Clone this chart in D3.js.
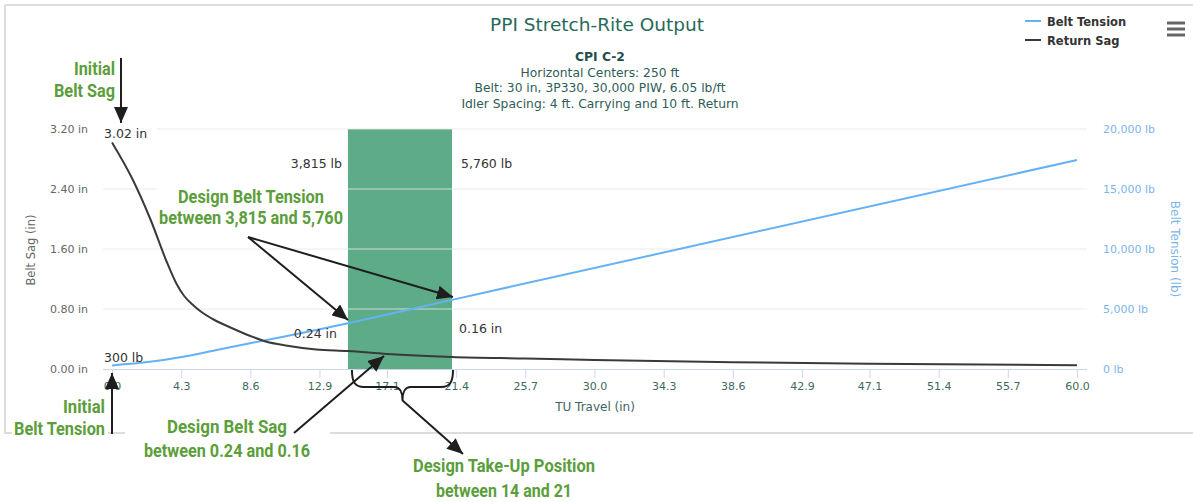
<!DOCTYPE html>
<html><head><meta charset="utf-8">
<script src="https://cdn.jsdelivr.net/npm/d3@7"></script>
<style>
body{margin:0;background:#fff}
svg{display:block}
text{font-family:"DejaVu Sans",Verdana,sans-serif}
.ann{font-family:Roboto,"Liberation Sans",sans-serif;font-weight:bold;fill:#5b9e3b}
</style>
</head><body>
<svg id="c" width="1193" height="502"></svg>
<script>
// ---------- data ----------
const titleText = "PPI Stretch-Rite Output";
const subtitleLines = ["CPI C-2", "Horizontal Centers: 250 ft", "Belt: 30 in, 3P330, 30,000 PIW, 6.05 lb/ft", "Idler Spacing: 4 ft. Carrying and 10 ft. Return"];
const seriesNames = ["Belt Tension", "Return Sag"];
const xTicks = [0, 4.3, 8.6, 12.9, 17.1, 21.4, 25.7, 30.0, 34.3, 38.6, 42.9, 47.1, 51.4, 55.7, 60.0];
const sagTicks = [0, 0.8, 1.6, 2.4, 3.2];
const tensionTicks = [0, 5000, 10000, 15000, 20000];
const sagTravel = [0, 1.3, 2.4, 3.4, 4.0, 4.5, 5.0, 5.5, 6.4, 7.4, 8.6, 9.5, 10.9, 12.7, 14.67, 17.1, 21.14, 25.7, 30, 38.6, 47.1, 60];
const sagValues = [3.02, 2.52, 1.99, 1.43, 1.14, 0.97, 0.86, 0.77, 0.65, 0.55, 0.44, 0.37, 0.31, 0.26, 0.24, 0.20, 0.16, 0.14, 0.12, 0.09, 0.07, 0.05];
const tensionTravel = [0, 2.36, 4.43, 6.5, 8.58, 10.65, 12.7, 14.67, 21.14, 60];
const tensionValues = [300, 600, 1020, 1580, 2150, 2690, 3250, 3815, 5760, 17417];
const designRange = [14.67, 21.14];

// ---------- setup ----------
const svg = d3.select("#c");
svg.append("rect").attr("width",1193).attr("height",502).attr("fill","#fff");

// frame
const frameCol = "#dcdcdc";
svg.append("line").attr("x1",5).attr("x2",1193).attr("y1",5).attr("y2",5).attr("stroke",frameCol).attr("stroke-width",2);
svg.append("line").attr("x1",5).attr("x2",5).attr("y1",5).attr("y2",434).attr("stroke",frameCol).attr("stroke-width",2);
svg.append("line").attr("x1",5).attr("x2",1193).attr("y1",433).attr("y2",433).attr("stroke",frameCol).attr("stroke-width",2);

const plotL = 103, plotR = 1087, plotT = 129, plotB = 369;
const x = d3.scaleLinear().domain([0,60]).range([112,1077]);
const ySag = d3.scaleLinear().domain([0,3.2]).range([plotB,plotT]);
const yTen = d3.scaleLinear().domain([0,20000]).range([plotB,plotT]);

// band
svg.append("rect")
  .attr("x", x(designRange[0])).attr("y", plotT)
  .attr("width", x(designRange[1]) - x(designRange[0]))
  .attr("height", plotB - plotT)
  .attr("fill", "#5eac87");

// grid
svg.append("g").selectAll("line").data(sagTicks.filter(d=>d>0)).join("line")
  .attr("x1",plotL).attr("x2",plotR)
  .attr("y1",d=>ySag(d)).attr("y2",d=>ySag(d))
  .attr("stroke","#e6e6e6").attr("stroke-opacity",0.85);

// x axis
const gx = svg.append("g").attr("transform",`translate(0,${plotB})`)
  .call(d3.axisBottom(x).tickValues(xTicks).tickFormat(d3.format(".1f")).tickSize(9).tickPadding(4));
gx.select(".domain").remove();
gx.selectAll(".tick line").attr("stroke","#ccd6eb");
gx.selectAll(".tick text").attr("font-size",11).attr("fill","#3d6a62").attr("font-family","DejaVu Sans");
svg.append("line").attr("x1",plotL).attr("x2",plotR).attr("y1",plotB+0.5).attr("y2",plotB+0.5).attr("stroke","#ccd6eb");

// left axis
const gl = svg.append("g").attr("transform",`translate(${plotL},0)`)
  .call(d3.axisLeft(ySag).tickValues(sagTicks).tickFormat(d=>d.toFixed(2)+" in").tickSize(0).tickPadding(15));
gl.select(".domain").remove();
gl.selectAll(".tick text").attr("font-size",11).attr("fill","#666").attr("font-family","DejaVu Sans");

// right axis
const gr = svg.append("g").attr("transform",`translate(${plotR},0)`)
  .call(d3.axisRight(yTen).tickValues(tensionTicks).tickFormat(d=>d3.format(",")(d)+" lb").tickSize(0).tickPadding(16));
gr.select(".domain").remove();
gr.selectAll(".tick text").attr("font-size",11).attr("fill","#7cb5ec").attr("font-family","DejaVu Sans");

// axis titles
svg.append("text").attr("x",595).attr("y",411).attr("text-anchor","middle").attr("font-size",12).attr("fill","#3f6360").text("TU Travel (in)");
svg.append("text").attr("transform","translate(35,250) rotate(-90)").attr("text-anchor","middle").attr("font-size",11.5).attr("fill","#666").text("Belt Sag (in)");
svg.append("text").attr("transform","translate(1171,249) rotate(90)").attr("text-anchor","middle").attr("font-size",12).attr("fill","#7cb5ec").text("Belt Tension (lb)");

// lines
const tensionData = tensionTravel.map((t,i)=>[t,tensionValues[i]]);
const sagData = sagTravel.map((t,i)=>[t,sagValues[i]]);
svg.append("path").datum(tensionData)
  .attr("d", d3.line().x(d=>x(d[0])).y(d=>yTen(d[1])).curve(d3.curveMonotoneX))
  .attr("fill","none").attr("stroke","#64b1f4").attr("stroke-width",2);
svg.append("path").datum(sagData)
  .attr("d", d3.line().x(d=>x(d[0])).y(d=>ySag(d[1])).curve(d3.curveMonotoneX))
  .attr("fill","none").attr("stroke","#3a3a3a").attr("stroke-width",2);

// title & subtitle
svg.append("text").attr("x",597).attr("y",31).attr("text-anchor","middle").attr("font-size",18.5).attr("fill","#26695a").text(titleText);
const subY = [61, 77, 92, 108];
subtitleLines.forEach((s,i)=>{
  svg.append("text").attr("x",600).attr("y",subY[i]).attr("text-anchor","middle")
    .attr("font-size",12.3).attr("font-weight",i===0?"bold":"normal")
    .attr("fill",i===0?"#1f4f49":"#2f5d57").text(s);
});

// legend
const legCols = ["#64b1f4","#3a3a3a"];
seriesNames.forEach((n,i)=>{
  const yy = 21 + i*19;
  svg.append("line").attr("x1",1025).attr("x2",1041).attr("y1",yy).attr("y2",yy).attr("stroke",legCols[i]).attr("stroke-width",2);
  svg.append("text").attr("x",1047).attr("y",yy+4.5).attr("font-size",11.5).attr("font-weight","bold").attr("fill","#333").text(n);
});
// menu icon
[23,29,35].forEach(yy=>svg.append("line").attr("x1",1167).attr("x2",1185).attr("y1",yy).attr("y2",yy).attr("stroke","#666").attr("stroke-width",3));

// data labels
function dlabel(txt, xx, yy, anchor, bg){
  const g = svg.append("g");
  const t = g.append("text").attr("x",xx).attr("y",yy).attr("text-anchor",anchor).attr("font-size",12.5).attr("fill","#333").text(txt);
  if(bg){ const b=t.node().getBBox(); g.insert("rect","text").attr("x",bg[0]).attr("y",b.y-1).attr("width",bg[1]-bg[0]).attr("height",b.height+2).attr("fill","#fff"); }
}
dlabel(sagValues[0].toFixed(2)+" in", 104, 138, "start", [103,157]);
dlabel(tensionValues[0]+" lb", 104, 362, "start");
dlabel(d3.format(",")(tensionValues[7])+" lb", 342, 168, "end");
dlabel(d3.format(",")(tensionValues[8])+" lb", 461, 168, "start");
dlabel(sagValues[14].toFixed(2)+" in", 337, 338, "end");
dlabel(sagValues[16].toFixed(2)+" in", 459, 333, "start");

// ---------- annotations ----------
const defs = svg.append("defs");
defs.append("marker").attr("id","ah").attr("markerUnits","userSpaceOnUse")
  .attr("markerWidth",17).attr("markerHeight",14).attr("refX",16).attr("refY",7).attr("orient","auto")
  .append("path").attr("d","M0,0 L16,7 L0,14 Z").attr("fill","#1e1e1e");

// white backgrounds behind annotation texts
svg.append("rect").attr("x",157).attr("y",178).attr("width",191).attr("height",52).attr("fill","#fff");
svg.append("rect").attr("x",125).attr("y",412).attr("width",205).attr("height",56).attr("fill","#fff");
svg.append("rect").attr("x",12).attr("y",395).attr("width",96).attr("height",45).attr("fill","#fff");

function ann(lines, xx, ys, anchor, widths){
  lines.forEach((l,i)=>svg.append("text").attr("class","ann").attr("x",xx).attr("y",ys[i]).attr("text-anchor",anchor)
    .attr("font-size",18.5).attr("textLength",widths[i]).attr("lengthAdjust","spacingAndGlyphs").text(l));
}
ann(["Initial","Belt Sag"], 115, [75, 97], "end", [41, 61]);
ann(["Initial","Belt Tension"], 105, [413, 435], "end", [42, 91]);
ann(["Design Belt Tension","between 3,815 and 5,760"], 251, [203, 224], "middle", [146, 184]);
ann(["Design Belt Sag","between 0.24 and 0.16"], 227, [433, 457], "middle", [120, 166]);
ann(["Design Take-Up Position","between 14 and 21"], 504, [472, 497], "middle", [182, 136]);

function arrow(x1,y1,x2,y2){
  svg.append("line").attr("x1",x1).attr("y1",y1).attr("x2",x2).attr("y2",y2)
    .attr("stroke","#1e1e1e").attr("stroke-width",2).attr("marker-end","url(#ah)");
}
arrow(121,58,121,123);
arrow(112,434,112,373);
arrow(248,237,348,320);
arrow(248,237,453,297);
arrow(294,433,384,356);
arrow(402,400,463,454);

// brace under design range
const bx0 = x(designRange[0]) + 4, bx1 = x(designRange[1]) + 1, bm = (bx0+bx1)/2;
svg.append("path")
  .attr("d",`M${bx0},370 C${bx0},382 ${bx0+3},387 ${bx0+12},387 L${bm-8},387 C${bm-3},387 ${bm},392 ${bm},400 C${bm},392 ${bm+3},387 ${bm+8},387 L${bx1-12},387 C${bx1-3},387 ${bx1},382 ${bx1},370`)
  .attr("fill","none").attr("stroke","#1e1e1e").attr("stroke-width",2);
</script>
</body></html>
